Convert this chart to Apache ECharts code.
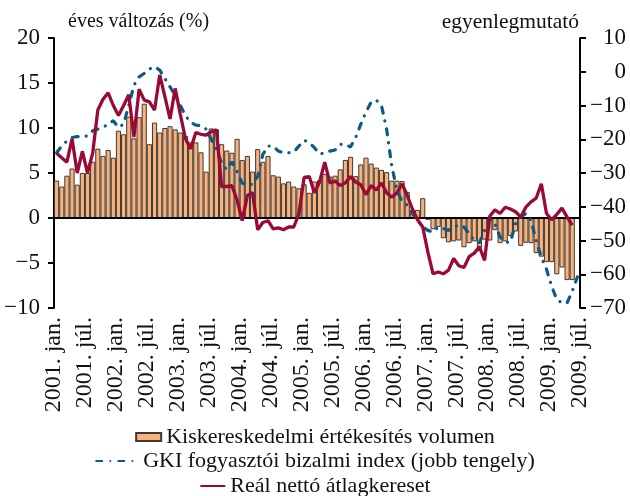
<!DOCTYPE html>
<html>
<head>
<meta charset="utf-8">
<script src="https://cdn.jsdelivr.net/npm/echarts@6/dist/echarts.min.js"></script>
<style>
html, body { margin: 0; padding: 0; background: #fff; }
#chart { width: 630px; height: 496px; }
</style>
</head>
<body>
<div id="chart"></div>
<script>
// havi adatok: 2001. jan. - 2009. jún. (102 hónap)
var tickLabels = [
    "2001. jan.", "2001. júl.", "2002. jan.", "2002. júl.", "2003. jan.", "2003. júl.",
    "2004. jan.", "2004. júl.", "2005. jan.", "2005. júl.", "2006. jan.", "2006. júl.",
    "2007. jan.", "2007. júl.", "2008. jan.", "2008. júl.", "2009. jan.", "2009. júl."
];

// kiskereskedelmi értékesítés volumene, éves változás % (2009. máj.-ig)
var retail = [
    4.15, 3.5, 4.7, 5.5, 3.7, 5.0, 5.0, 6.25, 7.7, 6.9, 7.55, 6.7,
    9.7, 9.3, 11.25, 8.85, 11.2, 12.7, 8.2, 10.6, 9.5, 10.0, 10.2, 9.85,
    9.5, 9.1, 8.4, 8.4, 7.3, 5.15, 9.95, 9.85, 8.2, 7.5, 7.25, 8.8,
    6.45, 6.9, 5.15, 7.65, 6.25, 6.9, 4.75, 4.6, 3.85, 4.05, 3.5, 3.3,
    3.75, 2.8, 4.05, 4.2, 4.9, 4.6, 4.7, 5.4, 6.45, 6.8, 4.65, 5.95,
    6.7, 6.05, 5.6, 5.35, 5.1, 4.15, 4.15, 4.1, 2.9, 0.8, 0.9, 2.2,
    -0.2, -1.25, -1.0, -2.25, -2.7, -2.6, -2.5, -3.25, -2.8, -2.6, -3.3, -2.4,
    -2.5, -1.35, -2.8, -2.6, -2.0, -1.5, -3.1, -2.75, -2.8, -3.9, -4.3, -4.9,
    -4.9, -6.25, -5.5, -6.9, -6.9
];

// GKI fogyasztói bizalmi index, egyenleg (jobb tengely), 2009. jún.-ig
var gki = [
    -24, -22, -20.5, -19.5, -19.2, -19.2, -19, -17.5, -17, -16.5, -15.5, -14.5,
    -16.5, -15.5, -10, -4, -1.5, -0.5, 0.8, 1.5, 0.5, -2, -4.5, -7,
    -10, -13, -15, -15.8, -16, -17, -20, -23, -27, -29, -26.7, -29.5,
    -33, -33.5, -33.3, -31, -24.5, -22, -22, -23.5, -24, -24, -23.8, -22,
    -20.3, -21, -22.5, -24.4, -24, -23.5, -23.2, -21.5, -21.5, -22.3, -19.5, -15.5,
    -12, -9, -8.4, -10, -17, -28, -35, -38.5, -39.5, -42, -44, -46,
    -47, -47.5, -46, -46.5, -47, -46, -45.4, -46, -48, -50, -50.7, -47,
    -43.5, -45, -49, -50.5, -50.5, -45, -43, -42, -44, -50, -55, -58.5,
    -63.5, -67.5, -68.5, -68.5, -65, -60.8
];

// reál nettó átlagkereset, éves változás % (2009. máj.-ig)
var wage = [
    7.2, 6.7, 6.2, 8.8, 5.0, 7.4, 5.0, 7.2, 12.0, 13.2, 13.9, 12.5,
    11.4, 12.5, 13.7, 9.0, 14.3, 13.1, 12.9, 12.0, 15.9, 13.5, 11.0, 14.4,
    11.5, 8.8, 7.7, 9.5, 9.3, 9.2, 9.6, 9.8, 3.5, 3.5, 3.6, 2.0,
    -0.3, 2.5, 2.8, -1.3, -0.5, -0.3, -1.2, -1.1, -1.3, -1.0, -1.0, 0.5,
    4.5, 4.6, 2.8, 4.0, 6.2, 3.9, 4.1, 3.6, 3.9, 4.6, 4.0, 3.7,
    2.6, 3.6, 3.1, 3.9, 2.8, 2.3, 2.8, 3.8, 2.5, 1.0, -0.2, -1.0,
    -3.8, -6.2, -6.0, -6.2, -5.8, -4.5, -5.3, -5.5, -4.3, -3.9, -3.2, -4.7,
    0.2, 0.9, 0.5, 1.2, 1.0, 0.7, 0.1, 1.2, 1.8, 2.2, 3.8, 0.5,
    -0.2, 0.4, 1.1, 0.1, -0.8
];

var font = "Liberation Serif";
var textColor = "#111";

// hónapok (kategóriák) a tengelyhez
var months = [];
for (var i = 0; i < gki.length; i++) {
    months.push((2001 + Math.floor(i / 12)) + "." + (i % 12 + 1));
}

function minus(v) {
    return v < 0 ? "\u2212" + Math.abs(v) : String(v);
}

var myChart = echarts.init(document.getElementById("chart"));
var option = {
    animation: false,
    grid: { left: 54, right: 50, top: 38, bottom: 188 },
    xAxis: [
        {
            // a nulla vonal, rajta a félévenkénti osztásokkal
            type: "category",
            data: months,
            boundaryGap: true,
            z: 3,
            axisLine: { onZero: true, lineStyle: { color: "#000", width: 2 } },
            axisTick: {
                length: 5,
                interval: function (idx) { return idx % 6 === 0; },
                lineStyle: { color: "#000", width: 2 }
            },
            axisLabel: { show: false },
            splitLine: { show: false }
        },
        {
            // feliratok a rajzterület alján
            type: "value",
            min: 0,
            max: 102,
            interval: 6,
            position: "bottom",
            axisLine: { show: false, onZero: false },
            axisTick: { show: false },
            splitLine: { show: false },
            axisLabel: {
                rotate: 90,
                margin: 9,
                showMinLabel: true,
                showMaxLabel: true,
                fontFamily: font,
                fontSize: 24,
                color: textColor,
                formatter: function (v) {
                    return tickLabels[Math.round(v / 6)];
                }
            }
        }
    ],
    yAxis: [
        {
            type: "value",
            min: -10,
            max: 20,
            interval: 5,
            name: "éves változás (%)",
            nameLocation: "end",
            nameGap: 16,
            nameTextStyle: {
                fontFamily: font,
                fontSize: 20,
                color: textColor,
                align: "left",
                verticalAlign: "middle",
                padding: [0, 0, 0, 14]
            },
            axisLine: { show: true, onZero: false, lineStyle: { color: "#000", width: 2 } },
            axisTick: { show: true, length: 6, lineStyle: { color: "#000", width: 2 } },
            axisLabel: {
                margin: 14,
                fontFamily: font,
                fontSize: 23,
                color: textColor,
                formatter: minus
            },
            splitLine: { show: false }
        },
        {
            type: "value",
            min: -70,
            max: 10,
            interval: 10,
            position: "right",
            name: "egyenlegmutató",
            nameLocation: "end",
            nameGap: 16,
            nameTextStyle: {
                fontFamily: font,
                fontSize: 21.5,
                color: textColor,
                align: "right",
                verticalAlign: "middle",
                padding: [0, 1, 0, 0]
            },
            axisLine: { show: true, onZero: false, lineStyle: { color: "#000", width: 2 } },
            axisTick: { show: true, length: 6, lineStyle: { color: "#000", width: 2 } },
            axisLabel: {
                margin: 46,
                align: "right",
                fontFamily: font,
                fontSize: 23,
                color: textColor,
                formatter: minus
            },
            splitLine: { show: false }
        }
    ],
    legend: [
        {
            data: ["Kiskereskedelmi értékesítés volumen"],
            top: 426,
            left: "center",
            padding: 0,
            icon: "rect",
            itemWidth: 25,
            itemHeight: 8,
            textStyle: { fontFamily: font, fontSize: 22, color: textColor }
        },
        {
            data: ["GKI fogyasztói bizalmi index (jobb tengely)"],
            top: 450,
            left: "center",
            padding: 0,
            itemWidth: 42,
            itemHeight: 14,
            itemStyle: { opacity: 0 },
            textStyle: { fontFamily: font, fontSize: 22, color: textColor }
        },
        {
            data: ["Reál nettó átlagkereset"],
            top: 475,
            left: "center",
            padding: 0,
            itemWidth: 25,
            itemHeight: 14,
            itemStyle: { opacity: 0 },
            textStyle: { fontFamily: font, fontSize: 22, color: textColor }
        }
    ],
    series: [
        {
            name: "Kiskereskedelmi értékesítés volumen",
            type: "bar",
            xAxisIndex: 0,
            yAxisIndex: 0,
            data: retail,
            barCategoryGap: "0%",
            itemStyle: { color: "#FAB27A", borderColor: "#3a3a3a", borderWidth: 1 }
        },
        {
            name: "GKI fogyasztói bizalmi index (jobb tengely)",
            type: "line",
            xAxisIndex: 0,
            yAxisIndex: 1,
            data: gki,
            symbol: "none",
            z: 4,
            itemStyle: { color: "#0B5C84" },
            lineStyle: { color: "#0B5C84", width: 3.2, type: [6, 8, 0.1, 8], cap: "round" }
        },
        {
            name: "Reál nettó átlagkereset",
            type: "line",
            xAxisIndex: 0,
            yAxisIndex: 0,
            data: wage,
            symbol: "none",
            z: 5,
            itemStyle: { color: "#9A0A36" },
            lineStyle: { color: "#9A0A36", width: 3.3 }
        }
    ]
};
myChart.setOption(option);
</script>
</body>
</html>
